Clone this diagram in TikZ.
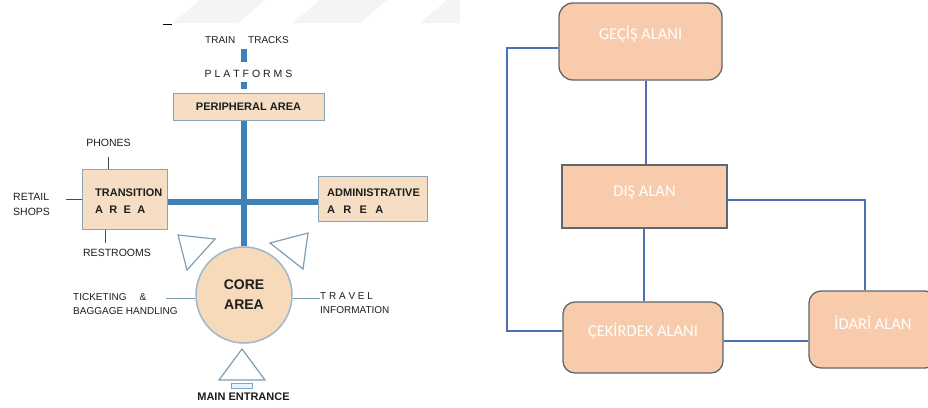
\documentclass[tikz,border=0pt]{standalone}
\usepackage{fontspec}
\setmainfont{Liberation Sans}
\newfontfamily\calfont{Carlito}
\definecolor{trackblue}{HTML}{3D80BA}
\definecolor{tanfill}{HTML}{F5DEC3}
\definecolor{tanedge}{HTML}{8DA2B4}
\definecolor{corefill}{HTML}{F6DABA}
\definecolor{coreedge}{HTML}{9DB7CA}
\definecolor{triedge}{HTML}{7E9FB2}
\definecolor{txt}{HTML}{1E1E1E}
\definecolor{peach}{HTML}{F8CBAD}
\definecolor{boxedge}{HTML}{5E6670}
\definecolor{linkblue}{HTML}{4A70B8}
\definecolor{wmark}{HTML}{F4F4F4}
\begin{document}
\begin{tikzpicture}[x=1pt,y=-1pt,
  lbox/.style={draw=tanedge, fill=tanfill, line width=1pt, inner sep=0pt},
  track/.style={draw=trackblue, line width=6pt},
  thinl/.style={draw=txt!80, line width=1pt},
  ltext/.style={text=txt, inner sep=0pt, font=\fontsize{10}{14}\selectfont},
  lbold/.style={text=txt, inner sep=0pt, font=\bfseries\fontsize{11}{17}\selectfont},
  tri/.style={draw=triedge, line width=1.2pt, fill=white},
  rbox/.style={draw=boxedge, fill=peach, line width=1.3pt, rounded corners=14pt, inner sep=0pt},
  rsbox/.style={draw=boxedge, fill=peach, line width=1.3pt, inner sep=0pt},
  rtext/.style={text=white, inner sep=0pt, anchor=base, font=\calfont\fontsize{16.5}{19}\selectfont},
  link/.style={draw=linkblue, line width=1.8pt}]
\useasboundingbox (0,0) rectangle (928,407);
\clip (0,0) rectangle (928,407);
\fill[white] (0,0) rectangle (928,407);
% faint watermark stripes
\begin{scope}
\clip (160,0) rectangle (460,23);
\fill[wmark] (173,23) -- (200,0) -- (265,0) -- (238,23) -- cycle;
\fill[wmark] (293,23) -- (320,0) -- (387,0) -- (360,23) -- cycle;
\fill[wmark] (420,23) -- (447,0) -- (520,0) -- (493,23) -- cycle;
\end{scope}
\draw[black, line width=1.6pt] (163,24.5) -- (172,24.5);

% ---------------- left diagram ----------------
\node[ltext] (tracks) at (247,40) {TRAIN\hspace{13pt}TRACKS};
\node[ltext, font=\fontsize{10.5}{14}\selectfont] (platforms) at (248.5,74) {P L A T F O R M S};
\node[lbox, minimum width=151pt, minimum height=27pt, text=txt, font=\bfseries\fontsize{11}{13}\selectfont] (periph) at (248.5,107) {PERIPHERAL AREA};

\node[lbox, minimum width=85pt, minimum height=60pt] (trans) at (124.5,199) {};
\node[lbold, anchor=west, align=left] (transT) at (95,201) {TRANSITION\\A\hspace{6.3pt}R\hspace{6.3pt}E\hspace{6.3pt}A};
\node[lbox, minimum width=109pt, minimum height=45pt] (admin) at (372.5,198.5) {};
\node[lbold, anchor=west, align=left] (adminT) at (327,201) {ADMINISTRATIVE\\A\hspace{8.3pt}R\hspace{8.3pt}E\hspace{8.3pt}A};

\node[ltext, font=\fontsize{10.5}{14}\selectfont] (phones) at (108.5,142.5) {PHONES};
\node[ltext, anchor=west, align=left, font=\fontsize{10.5}{15.5}\selectfont] (retail) at (13,204.5) {RETAIL\\SHOPS};
\node[ltext, font=\fontsize{10.5}{14}\selectfont] (restrooms) at (117,253) {RESTROOMS};

\node[ltext, anchor=west, align=left] (ticket) at (73,304) {TICKETING\hspace{13pt}\&\\BAGGAGE HANDLING};
\node[ltext, anchor=west, align=left] (travel) at (320,303.5) {T R A V E L\\INFORMATION};
\node[lbold] (mainent) at (243.5,397) {MAIN ENTRANCE};

% thick track lines
\coordinate (cross) at (244,202);
\draw[track, shorten <=5pt, shorten >=8pt] (tracks.south -| cross) -- (platforms.north -| cross);
\draw[track, shorten <=4pt, shorten >=4.5pt] (platforms.south -| cross) -- (periph.north -| cross);
\draw[track] (trans.east |- cross) -- (admin.west |- cross);

% core circle
\node[circle, draw=coreedge, fill=corefill, line width=1.5pt, minimum size=96pt, inner sep=0pt,
      text=txt, align=center, font=\bfseries\fontsize{14}{20}\selectfont] (core) at (244,295) {CORE\\AREA};
\draw[track] (core.north) -- (core.north |- periph.south);

% thin connectors
\coordinate (phE) at (108,157);
\coordinate (rtE) at (66,199);
\coordinate (rsE) at (105,243);
\coordinate (tkE) at (166,298);
\coordinate (tvE) at (320,298);
\draw[thinl] (trans.north -| phE) -- (phE);
\draw[thinl] (trans.west) -- (rtE);
\draw[thinl] (trans.south -| rsE) -- (rsE);
\draw[thinl, draw=triedge] (tkE -| core.west) -- (tkE);
\draw[thinl, draw=triedge] (tvE -| core.east) -- (tvE);

% triangles and entrance mark
\draw[tri] (178,235) -- (215,239) -- (187,270) -- cycle;
\draw[tri] (270,243) -- (308,233) -- (303,269) -- cycle;
\draw[tri] (242,349) -- (219,380) -- (265,380) -- cycle;
\draw[draw=trackblue!70, fill=trackblue!10, line width=1pt] (231,383) rectangle (252,388);

% ---------------- right diagram ----------------
\node[rbox, minimum width=163pt, minimum height=77pt] (gecis) at (640.5,41.5) {};
\node[rsbox, minimum width=165pt, minimum height=63pt] (dis) at (644.5,196.5) {};
\node[rbox, rounded corners=12pt, minimum width=160pt, minimum height=71pt] (cekirdek) at (643,337.5) {};
\node[rbox, rounded corners=12pt, minimum width=128pt, minimum height=77pt] (idari) at (873,329.5) {};

\node[rtext] (gecisT) at (640.5,39.5) {GEÇİŞ ALANI};
\node[rtext] (disT) at (644.5,196.5) {DIŞ ALAN};
\node[rtext] (cekirdekT) at (643,336.5) {ÇEKİRDEK ALANI};
\node[rtext] (idariT) at (873,329) {İDARİ ALAN};

\coordinate (lx) at (507,0);
\coordinate (gx) at (646,0);
\coordinate (dx) at (644,0);
\coordinate (ix) at (865,0);
\coordinate (gw) at ([yshift=-6.5pt]gecis.west);
\coordinate (cw) at ([yshift=6.5pt]cekirdek.west);
\coordinate (de) at ([yshift=-3.5pt]dis.east);
\coordinate (ce) at ([yshift=-3.5pt]cekirdek.east);
\draw[link] (gw) -- (gw -| lx) -- (cw -| lx) -- (cw);
\draw[link] (gecis.south -| gx) -- (dis.north -| gx);
\draw[link] (dis.south -| dx) -- (cekirdek.north -| dx);
\draw[link] (de) -| (idari.north -| ix);
\draw[link] (ce) -- (ce -| idari.west);
\end{tikzpicture}
\end{document}
